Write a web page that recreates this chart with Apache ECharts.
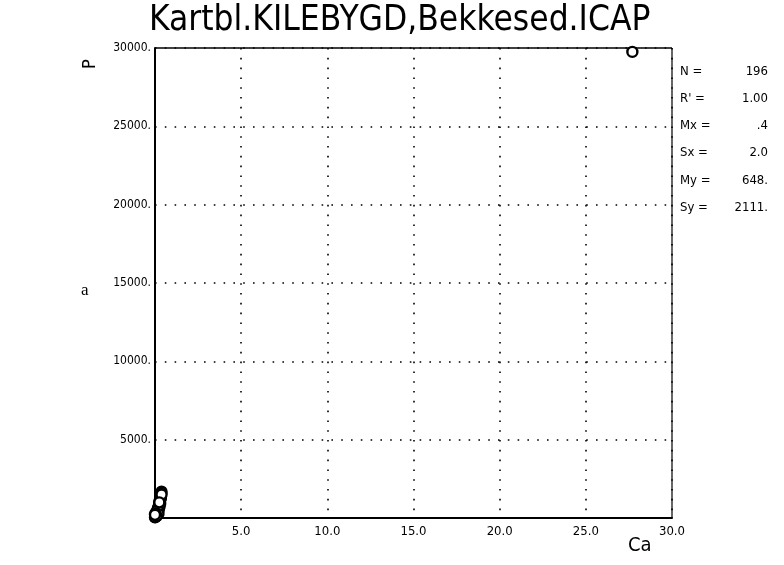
<!DOCTYPE html>
<html>
<head>
<meta charset="utf-8">
<script src="https://cdn.jsdelivr.net/npm/echarts@6/dist/echarts.min.js"></script>
<style>
  html, body { margin: 0; padding: 0; background: #fff; }
  #chart { width: 784px; height: 565px; }
</style>
</head>
<body>
<div id="chart"></div>
<script>
// Ca (x) against P (y) for the stream-sediment samples
const titleText = 'Kartbl.KILEBYGD,Bekkesed.ICAP';
const xName = 'Ca';
const yName = 'P';

// Cluster of low values near the origin plus one high outlier
const caValues = [0.38, 0.35, 0.33, 0.31, 0.30, 0.29, 0.28, 0.27, 0.26, 0.25,
                  0.24, 0.23, 0.22, 0.21, 0.20, 0.19, 0.18, 0.17, 0.16, 0.15,
                  0.14, 0.13, 0.12, 0.11, 0.10, 0.09, 0.08, 0.07, 0.06, 0.05,
                  0.04, 0.03, 0.02, 0.01, 0.00, 0.26, 0.22, 0.12, 0.18, 0.08,
                  0.30, 0.15, 0.05, 0.20, 0.10, 0.34, 0.38, 0.02, 0.00, 0.25,
                  27.7];
const pValues  = [1680, 1550, 1420, 1320, 1230, 1150, 1080, 1010, 950, 890,
                  840, 790, 740, 690, 640, 600, 560, 520, 480, 440,
                  400, 370, 340, 310, 280, 250, 220, 190, 160, 140,
                  120, 100, 80, 60, 40, 700, 560, 180, 380, 300,
                  900, 520, 250, 250, 120, 1250, 1500, 300, 200, 1000,
                  29750];

// Summary statistics shown beside the plot
const statNames  = ['N =', "R' =", 'Mx =', 'Sx =', 'My =', 'Sy ='];
const statValues = ['196', '1.00', '.4', '2.0', '648.', '2111.'];

const xTicks = { min: 0, max: 30, interval: 5 };
const yTicks = { min: 0, max: 30000, interval: 5000 };

const font = 'DejaVu Sans Condensed, DejaVu Sans, sans-serif';
const chart = echarts.init(document.getElementById('chart'), null, { renderer: 'canvas' });

const points = caValues.map((c, i) => [c, pValues[i]]);

const statGraphics = [];
statNames.forEach((name, i) => {
  const y = 73 + i * 27.2;
  statGraphics.push({
    type: 'text', left: 680, top: y - 8,
    style: { text: name, font: '13px ' + font, fill: '#000' }
  });
  statGraphics.push({
    type: 'text', right: 16, top: y - 8,
    style: { text: statValues[i], font: '13px ' + font, fill: '#000', textAlign: 'right' }
  });
});

chart.setOption({
  animation: false,
  backgroundColor: '#fff',
  title: {
    text: titleText,
    left: 144,
    top: -2,
    textStyle: { fontFamily: font, fontWeight: 'normal', fontSize: 35, color: '#000' }
  },
  grid: { left: 155, right: 112, top: 48, bottom: 47, show: false },
  xAxis: {
    type: 'value',
    min: xTicks.min, max: xTicks.max, interval: xTicks.interval,
    axisLine: { show: true, onZero: false, lineStyle: { color: '#000', width: 2 } },
    axisTick: { show: false },
    axisLabel: {
      color: '#000', fontFamily: font, fontSize: 13, margin: 7,
      formatter: v => (v === 0 ? '' : v.toFixed(1))
    },
    splitLine: { show: true, lineStyle: { color: '#000', width: 1.6, type: [1.6, 8.2] } }
  },
  yAxis: {
    type: 'value',
    min: yTicks.min, max: yTicks.max, interval: yTicks.interval,
    axisLine: { show: true, onZero: false, lineStyle: { color: '#000', width: 2 } },
    axisTick: { show: false },
    axisLabel: {
      color: '#000', fontFamily: font, fontSize: 12, margin: 4,
      formatter: v => (v === 0 ? '' : v + '.')
    },
    splitLine: { show: true, lineStyle: { color: '#000', width: 1.6, type: [1.6, 8.2] } }
  },
  series: [{
    type: 'scatter',
    data: points,
    symbol: 'circle',
    symbolSize: 10,
    itemStyle: { color: '#fff', borderColor: '#000', borderWidth: 2.4, opacity: 1 },
    z: 5
  }],
  graphic: [
    // frame: top and right edges
    { type: 'line', shape: { x1: 155, y1: 48, x2: 672, y2: 48 }, style: { stroke: '#000', lineWidth: 1.5 } },
    { type: 'line', shape: { x1: 672, y1: 48, x2: 672, y2: 518 }, style: { stroke: '#000', lineWidth: 1.2 } },
    // axis names
    {
      type: 'text', x: 90, y: 64, rotation: Math.PI / 2,
      style: { text: yName, font: '18px ' + font, fill: '#000', textAlign: 'center', textVerticalAlign: 'middle' }
    },
    {
      type: 'text', left: 628, top: 536,
      style: { text: xName, font: '20px ' + font, fill: '#000' }
    },
    // panel letter
    {
      type: 'text', left: 81, top: 282,
      style: { text: 'a', font: '17px Liberation Serif, serif', fill: '#000' }
    }
  ].concat(statGraphics)
});
</script>
</body>
</html>
